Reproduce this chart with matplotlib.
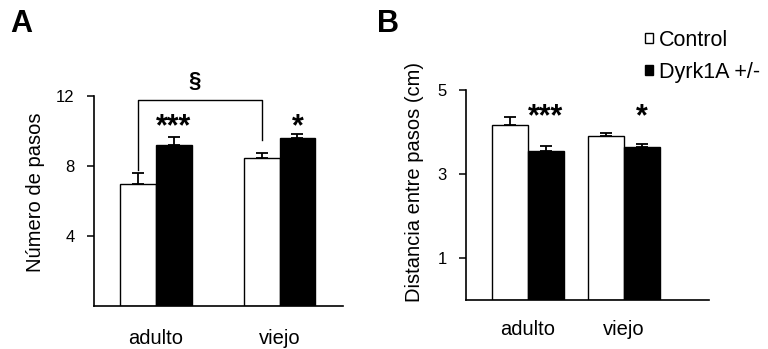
import numpy as np
import matplotlib
matplotlib.use("Agg")
import matplotlib.pyplot as plt

plt.rcParams['font.family'] = ['Liberation Sans', 'DejaVu Sans']

groups = ["adulto", "viejo"]
series = ["Control", "Dyrk1A +/-"]

# panel A: numero de pasos
pasos_ctrl = [7.0, 8.46]
pasos_ctrl_err = [0.6, 0.28]
pasos_dyrk = [9.2, 9.6]
pasos_dyrk_err = [0.46, 0.23]
pasos_stars = ["***", "*"]

# panel B: distancia entre pasos (cm)
dist_ctrl = [4.17, 3.90]
dist_ctrl_err = [0.19, 0.08]
dist_dyrk = [3.55, 3.65]
dist_dyrk_err = [0.12, 0.07]
dist_stars = ["***", "*"]

fig = plt.figure(figsize=(7.68, 3.49), dpi=100, facecolor="w")
axA = fig.add_axes([94/768, 1-306/349, 249/768, 210/349])
axB = fig.add_axes([466/768, 1-300/349, 243/768, 210/349])


def panel(ax, ctrl, ctrl_err, dyrk, dyrk_err, width, xlim, ylim, yticks, ylabel, stars, star_y, xpad):
    x = np.arange(len(groups))
    zeros = [0] * len(groups)
    b1 = ax.bar(x - width/2, ctrl, width, color="white", edgecolor="black", linewidth=1.0,
                yerr=[zeros, ctrl_err], capsize=4.5, error_kw=dict(elinewidth=1.3, capthick=1.3, ecolor="black"),
                label=series[0], zorder=2)
    b2 = ax.bar(x + width/2, dyrk, width, color="black", edgecolor="black", linewidth=1.0,
                yerr=[zeros, dyrk_err], capsize=4.5, error_kw=dict(elinewidth=1.3, capthick=1.3, ecolor="black"),
                label=series[1], zorder=2)
    for i, s in enumerate(stars):
        ax.text(x[i] + width/2, star_y, s, ha="center", va="center", fontsize=22, fontweight="bold")
    ax.set_xlim(xlim)
    ax.set_ylim(ylim)
    ax.set_yticks(yticks)
    ax.set_xticks(x)
    ax.set_xticklabels(groups, fontsize=14.5)
    ax.tick_params(axis="x", length=0, pad=xpad)
    ax.tick_params(axis="y", length=5, width=1.1, pad=9, labelsize=12)
    ax.spines["top"].set_visible(False)
    ax.spines["right"].set_visible(False)
    ax.spines["left"].set_linewidth(1.2)
    ax.spines["bottom"].set_linewidth(1.2)
    ax.set_ylabel(ylabel, fontsize=14.5)
    return b1, b2


wA = 0.29
panel(axA, pasos_ctrl, pasos_ctrl_err, pasos_dyrk, pasos_dyrk_err, wA, (-0.502, 1.514), (0, 12),
      [4, 8, 12], "Número de pasos", pasos_stars, 10.2, 16.5)
axA.yaxis.set_label_coords(-0.195, 0.54)

# bracket adulto vs viejo
xl, xr = 0 - wA/2, 1 - wA/2
axA.plot([xl, xl, xr, xr], [7.77, 11.77, 11.77, 9.49], color="black", lw=1.0, clip_on=False)
axA.text(0.316, 12.85, "§", ha="center", va="center", fontsize=16, fontweight="bold")

wB = 0.377
b1, b2 = panel(axB, dist_ctrl, dist_ctrl_err, dist_dyrk, dist_dyrk_err, wB, (-0.649, 1.895), (0, 5),
               [1, 3, 5], "Distancia entre pasos (cm)", dist_stars, 4.34, 14.5)
axB.yaxis.set_label_coords(-0.172, 0.56)

fig.legend(handles=[b1, b2], labels=series, loc="upper left", bbox_to_anchor=(645/768, 1-30/349),
           frameon=False, fontsize=15.5, handlelength=0.35, handleheight=0.35, handletextpad=0.3,
           labelspacing=0.5, borderpad=0, borderaxespad=0)

fig.text(10/768, 1-32/349, "A", fontsize=22, fontweight="bold", va="baseline")
fig.text(377/768, 1-32/349, "B", fontsize=22, fontweight="bold", va="baseline")

fig.savefig("out.png", dpi=100)
